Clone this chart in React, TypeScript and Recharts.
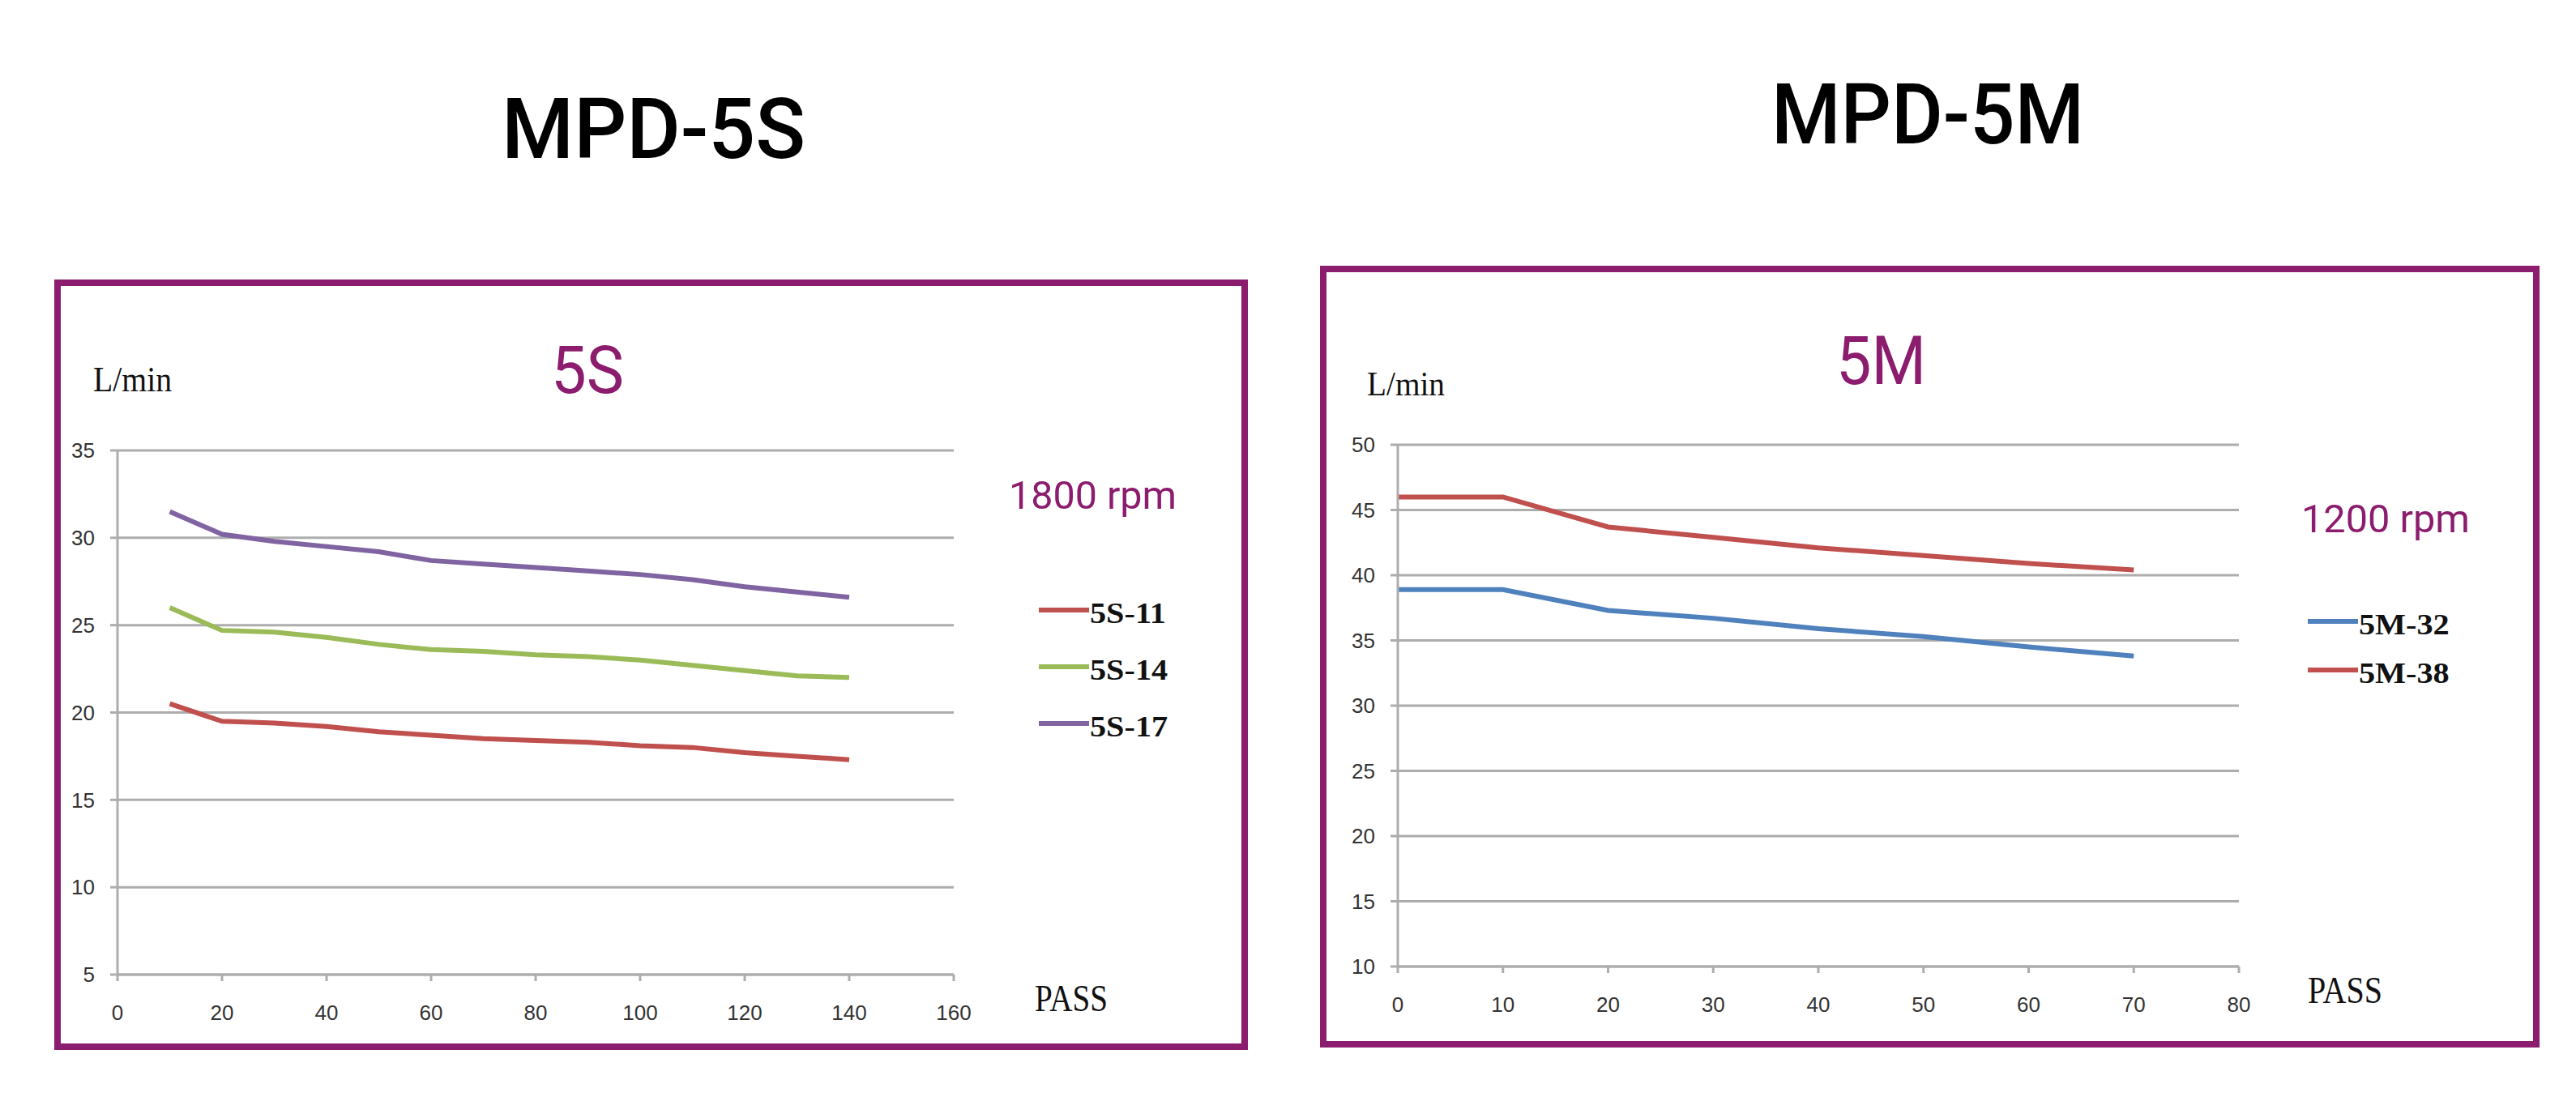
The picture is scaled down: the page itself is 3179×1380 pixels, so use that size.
import React from "react";
import { LineChart, Line, XAxis, YAxis, CartesianGrid, Legend } from "recharts";

// MPD-5S, 1800 rpm
const passes5S = [10, 20, 30, 40, 50, 60, 70, 80, 90, 100, 110, 120, 130, 140];
const flow5S11 = [20.5, 19.5, 19.4, 19.2, 18.9, 18.7, 18.5, 18.4, 18.3, 18.1, 18.0, 17.7, 17.5, 17.3];
const flow5S14 = [26.0, 24.7, 24.6, 24.3, 23.9, 23.6, 23.5, 23.3, 23.2, 23.0, 22.7, 22.4, 22.1, 22.0];
const flow5S17 = [31.5, 30.2, 29.8, 29.5, 29.2, 28.7, 28.5, 28.3, 28.1, 27.9, 27.6, 27.2, 26.9, 26.6];
const xTicks5S = [0, 20, 40, 60, 80, 100, 120, 140, 160];
const yTicks5S = [5, 10, 15, 20, 25, 30, 35];

// MPD-5M, 1200 rpm
const passes5M = [0, 10, 20, 30, 40, 50, 60, 70];
const flow5M32 = [38.9, 38.9, 37.3, 36.7, 35.9, 35.3, 34.5, 33.8];
const flow5M38 = [46.0, 46.0, 43.7, 42.9, 42.1, 41.5, 40.9, 40.4];
const xTicks5M = [0, 10, 20, 30, 40, 50, 60, 70, 80];
const yTicks5M = [10, 15, 20, 25, 30, 35, 40, 45, 50];

const data5S = passes5S.map((pass, i) => ({
  pass,
  "5S-11": flow5S11[i],
  "5S-14": flow5S14[i],
  "5S-17": flow5S17[i],
}));

const data5M = passes5M.map((pass, i) => ({
  pass,
  "5M-32": flow5M32[i],
  "5M-38": flow5M38[i],
}));

const PURPLE = "#8C1C6E";
const GRID = "#ADADAD";
const tickStyle = { fill: "#333", fontSize: 26, fontFamily: "Liberation Sans" };

const SeriesLegend = ({ payload, gap }: any) => {
  const items = payload || [];
  return (
    <svg width={240} height={gap * items.length} style={{ display: "block", overflow: "visible" }}>
      {items.map((p: any, i: number) => {
        const cy = gap / 2 + i * gap;
        return (
          <g key={p.value}>
            <line x1={0} x2={62} y1={cy} y2={cy} stroke={p.color} strokeWidth={6} />
            <text
              transform={`translate(63,${cy + 16}) scale(1.15,1)`}
              fontFamily="Liberation Serif"
              fontWeight="bold"
              fontSize={35}
              fill="#111"
            >
              {p.value}
            </text>
          </g>
        );
      })}
    </svg>
  );
};

const Frame = ({ left, top, width, height }: any) => (
  <div
    style={{
      position: "absolute",
      left,
      top,
      width,
      height,
      boxSizing: "border-box",
      border: `8px solid ${PURPLE}`,
    }}
  />
);

const App = () => (
  <div
    style={{
      position: "absolute",
      left: 0,
      top: 0,
      width: 3179,
      height: 1380,
      background: "#fff",
      overflow: "hidden",
    }}
  >
    <Frame left={67} top={345} width={1473} height={951} />
    <Frame left={1629} top={328} width={1505} height={965} />

    <div style={{ position: "absolute", left: 67, top: 345 }}>
      <LineChart width={1473} height={951} data={data5S} margin={{ top: 211, right: 363, bottom: 0, left: 0 }}>
        <CartesianGrid vertical={false} stroke={GRID} strokeWidth={3} />
        <XAxis
          dataKey="pass"
          type="number"
          domain={[0, 160]}
          ticks={xTicks5S}
          interval={0}
          height={93}
          tickSize={8}
          tickMargin={30}
          tick={tickStyle}
          axisLine={{ stroke: GRID, strokeWidth: 3 }}
          tickLine={{ stroke: GRID, strokeWidth: 3 }}
        />
        <YAxis
          type="number"
          domain={[5, 35]}
          ticks={yTicks5S}
          interval={0}
          width={78}
          tickSize={9}
          tickMargin={19}
          tick={tickStyle}
          axisLine={{ stroke: GRID, strokeWidth: 3 }}
          tickLine={{ stroke: GRID, strokeWidth: 3 }}
        />
        <Legend
          layout="vertical"
          align="center"
          verticalAlign="middle"
          wrapperStyle={{ left: 1215, top: 373, width: 240 }}
          content={(props: any) => <SeriesLegend payload={props.payload} gap={70} />}
        />
        <Line type="linear" dataKey="5S-11" stroke="#C0504D" strokeWidth={6} dot={false} activeDot={false} isAnimationActive={false} />
        <Line type="linear" dataKey="5S-14" stroke="#9BBB59" strokeWidth={6} dot={false} activeDot={false} isAnimationActive={false} />
        <Line type="linear" dataKey="5S-17" stroke="#8064A2" strokeWidth={6} dot={false} activeDot={false} isAnimationActive={false} />
      </LineChart>
    </div>

    <div style={{ position: "absolute", left: 1629, top: 328 }}>
      <LineChart width={1505} height={965} data={data5M} margin={{ top: 221, right: 371, bottom: 0, left: 0 }}>
        <CartesianGrid vertical={false} stroke={GRID} strokeWidth={3} />
        <XAxis
          dataKey="pass"
          type="number"
          domain={[0, 80]}
          ticks={xTicks5M}
          interval={0}
          height={100}
          tickSize={8}
          tickMargin={30}
          tick={tickStyle}
          axisLine={{ stroke: GRID, strokeWidth: 3 }}
          tickLine={{ stroke: GRID, strokeWidth: 3 }}
        />
        <YAxis
          type="number"
          domain={[10, 50]}
          ticks={yTicks5M}
          interval={0}
          width={96}
          tickSize={9}
          tickMargin={19}
          tick={tickStyle}
          axisLine={{ stroke: GRID, strokeWidth: 3 }}
          tickLine={{ stroke: GRID, strokeWidth: 3 }}
        />
        <Legend
          layout="vertical"
          align="center"
          verticalAlign="middle"
          wrapperStyle={{ left: 1219, top: 409, width: 240 }}
          content={(props: any) => <SeriesLegend payload={props.payload} gap={60} />}
        />
        <Line type="linear" dataKey="5M-32" stroke="#4F81BD" strokeWidth={6} dot={false} activeDot={false} isAnimationActive={false} />
        <Line type="linear" dataKey="5M-38" stroke="#C0504D" strokeWidth={6} dot={false} activeDot={false} isAnimationActive={false} />
      </LineChart>
    </div>

    <svg
      width={3179}
      height={1380}
      style={{ position: "absolute", left: 0, top: 0, pointerEvents: "none" }}
    >
      <text x={619} y={195} fontFamily="Roboto" fontWeight={500} fontSize={104} textLength={375} lengthAdjust="spacingAndGlyphs" fill="#000">
        MPD-5S
      </text>
      <text x={2186} y={177} fontFamily="Roboto" fontWeight={500} fontSize={104} textLength={386} lengthAdjust="spacingAndGlyphs" fill="#000">
        MPD-5M
      </text>

      <text x={680} y={485} fontFamily="Roboto" fontSize={82} textLength={90} lengthAdjust="spacingAndGlyphs" fill={PURPLE}>
        5S
      </text>
      <text x={2266} y={474} fontFamily="Roboto" fontSize={84} textLength={111} lengthAdjust="spacingAndGlyphs" fill={PURPLE}>
        5M
      </text>

      <text x={1245} y={628} fontFamily="Roboto" fontSize={49} textLength={207} lengthAdjust="spacingAndGlyphs" fill={PURPLE}>
        1800 rpm
      </text>
      <text x={2840} y={657} fontFamily="Roboto" fontSize={49} textLength={208} lengthAdjust="spacingAndGlyphs" fill={PURPLE}>
        1200 rpm
      </text>

      <text x={115} y={483} fontFamily="Liberation Serif" fontSize={45} textLength={97} lengthAdjust="spacingAndGlyphs" fill="#111">
        L/min
      </text>
      <text x={1687} y={488} fontFamily="Liberation Serif" fontSize={42} textLength={96} lengthAdjust="spacingAndGlyphs" fill="#111">
        L/min
      </text>

      <text x={1277} y={1248} fontFamily="Liberation Serif" fontSize={46} textLength={90} lengthAdjust="spacingAndGlyphs" fill="#111">
        PASS
      </text>
      <text x={2848} y={1238} fontFamily="Liberation Serif" fontSize={46} textLength={92} lengthAdjust="spacingAndGlyphs" fill="#111">
        PASS
      </text>
    </svg>
  </div>
);

export default App;
